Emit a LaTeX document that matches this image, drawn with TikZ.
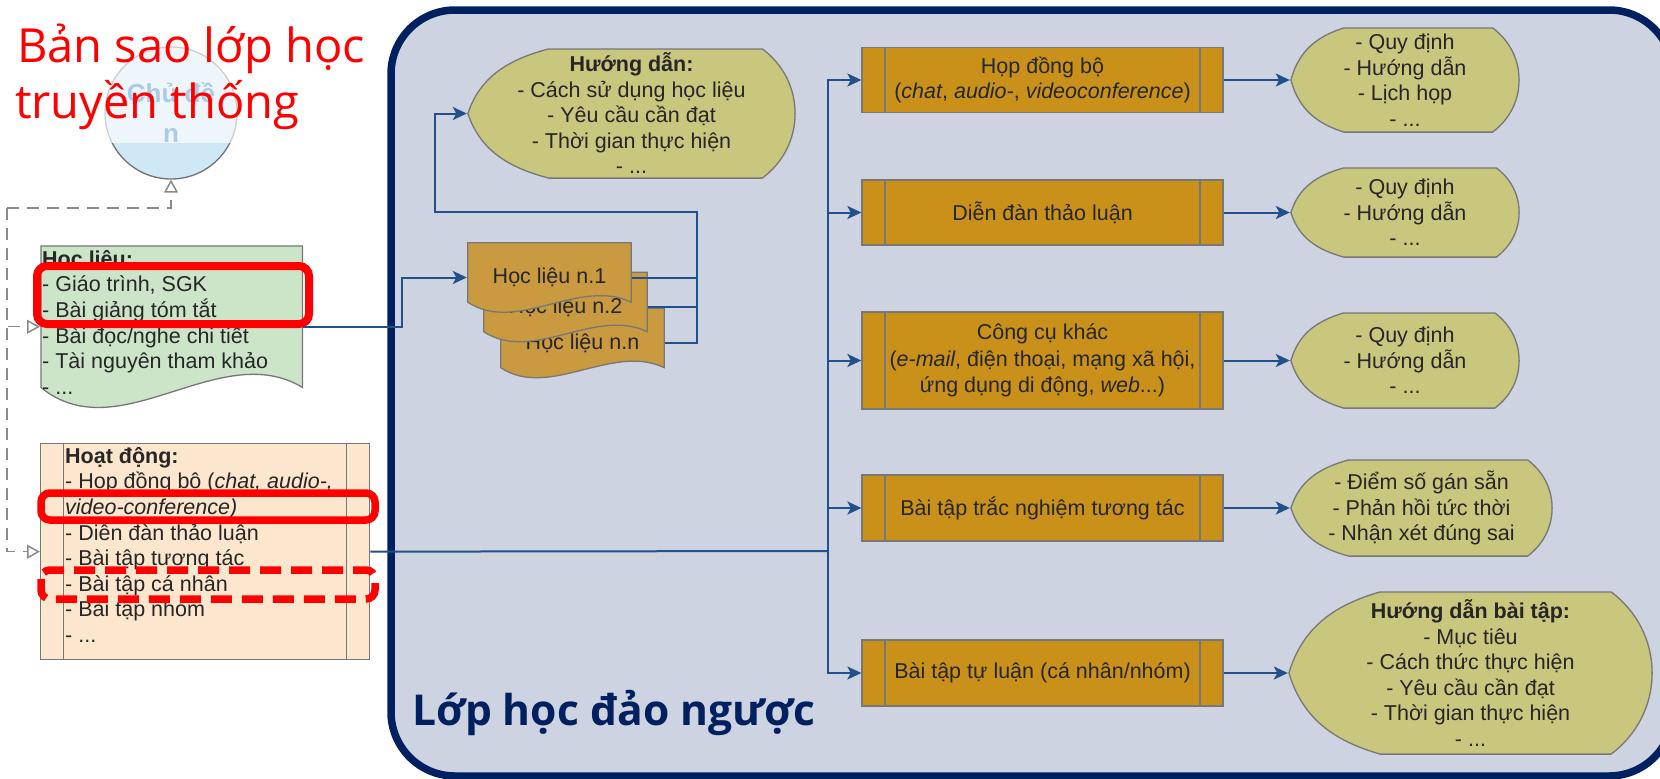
\documentclass[tikz,border=0pt]{standalone}
\usepackage{fontspec}
\setmainfont{Liberation Sans}
\newfontfamily\titlefont{Open Sans}
\usetikzlibrary{arrows.meta,calc}
\definecolor{contfill}{HTML}{CDD3E0}
\definecolor{navy}{HTML}{002060}
\definecolor{boxor}{HTML}{C99119}
\definecolor{docor}{HTML}{C99A40}
\definecolor{dispfill}{HTML}{C9C67E}
\definecolor{greenf}{HTML}{CCE5C9}
\definecolor{peach}{HTML}{FCE6CD}
\definecolor{bgray}{HTML}{777777}
\definecolor{txtc}{HTML}{262626}
\definecolor{conncol}{HTML}{21508C}
\definecolor{dgray}{HTML}{8A8A8A}
\definecolor{topicf}{HTML}{CFE8F5}
\definecolor{topicb}{HTML}{707070}
\definecolor{topict}{HTML}{0A6CC2}
\tikzset{
  lbl/.style={text=txtc, font=\fontsize{21.5}{25.5}\selectfont, align=center, inner sep=0pt},
  lefttxt/.style={text=txtc, font=\fontsize{21.5}{25.6}\selectfont, align=left, inner sep=0pt, anchor=north west},
  subproc/.style={rectangle, draw=bgray, line width=1.3pt, fill=#1, inner sep=0pt,
    path picture={\draw[bgray, line width=1.3pt]
      ([xshift=23pt]path picture bounding box.north west) -- ([xshift=23pt]path picture bounding box.south west)
      ([xshift=-23pt]path picture bounding box.north east) -- ([xshift=-23pt]path picture bounding box.south east);}},
  docpic/.style 2 args={rectangle, inner sep=0pt,
    path picture={\path[fill=#1, draw=bgray, line width=1.3pt]
      let \p1=(path picture bounding box.north west), \p2=(path picture bounding box.south east),
          \n1={\x1+0.7pt}, \n2={\x2-0.7pt}, \n3={\y1-0.7pt}, \n4={\y2+0.8pt+#2pt}, \n5={\x2-\x1}
      in (\n1,\n3) -- (\n2,\n3) -- (\n2,\n4)
         .. controls ({\x1+0.68*\n5},{\n4+2.5*#2pt}) and ({\x1+0.3*\n5},{\n4-3.2*#2pt}) .. (\n1,\n4) -- cycle;}},
  dispshape/.style={rectangle, inner sep=0pt,
    path picture={\path[fill=dispfill, draw=bgray, line width=1.3pt]
      let \p1=(path picture bounding box.north west), \p2=(path picture bounding box.south east),
          \n1={\x1+0.9pt}, \n2={\x2-0.9pt}, \n3={\y1-0.9pt}, \n4={\y2+0.9pt}, \n5={0.5*(\y1+\y2)},
          \n6={\y1-\y2}, \n7={#1*(\x2-\x1)}, \n8={0.25*(\y1-\y2)}
      in ({\n1+\n7},\n3) -- ({\n2-\n8},\n3)
        .. controls ({\n2-\n8+0.158*\n6},{\n3-0.118*\n6}) and (\n2,{\n5+0.197*\n6}) .. (\n2,\n5)
        .. controls (\n2,{\n5-0.197*\n6}) and ({\n2-\n8+0.158*\n6},{\n4+0.118*\n6}) .. ({\n2-\n8},\n4)
        -- ({\n1+\n7},\n4)
        .. controls ({\n1+0.5*\n7},{\n4+0.08*\n6}) and ({\n1+0.15*\n7},{\n5-0.28*\n6}) .. (\n1,\n5)
        .. controls ({\n1+0.15*\n7},{\n5+0.28*\n6}) and ({\n1+0.5*\n7},{\n3-0.08*\n6}) .. ({\n1+\n7},\n3) -- cycle;}},
  conn/.style={draw=conncol, line width=2pt},
  arr/.style={-{Stealth[length=14pt,width=13pt,inset=3.5pt]}},
  dconn/.style={draw=dgray, line width=1.5pt, dash pattern=on 12pt off 8pt},
  oarr/.style={-{Triangle[length=13pt,width=14pt,fill=white]}},
  redbox/.style={draw=red, line width=7.5pt, rounded corners=9pt}
}
\begin{document}
\begin{tikzpicture}[x=1pt,y=1pt]
\useasboundingbox (0,0) rectangle (1660,-779);
% container
\draw[navy, line width=7.5pt, fill=contfill, rounded corners=64pt] (391,-10) rectangle (1673,-776);

% topic circle (faded by the title box)
\node[circle, draw=topicb, line width=1.3pt, fill=topicf, minimum size=132pt, inner sep=0pt,
      text=topict, font=\bfseries\fontsize{26}{40}\selectfont, align=center] (topic) at (171,-113) {Chủ đề\\n};
\fill[white, fill opacity=0.65] (0,0) rectangle (372,-143);
\node[anchor=base west, inner sep=0pt, text=red, font=\titlefont\fontsize{47}{56}\selectfont] (title1) at (17,-62) {Bản sao lớp học};
\node[anchor=base west, inner sep=0pt, text=red, font=\titlefont\fontsize{47}{56}\selectfont] (title2) at (15,-118) {truyền thống};

% left shapes
\node[docpic={greenf}{20}, minimum width=263pt, minimum height=163pt, anchor=north west] (hoclieu) at (40,-245) {};
\node[lefttxt] (hoclieutxt) at (42,-250) {\textbf{Học liệu:}\\- Giáo trình, SGK\\- Bài giảng tóm tắt\\- Bài đọc/nghe chi tiết\\- Tài nguyên tham khảo\\- ...};
\node[subproc=peach, minimum width=329pt, minimum height=216pt, anchor=north west] (hoatdong) at (40,-443) {};
\node[lefttxt] (hoatdongtxt) at (65,-447) {\textbf{Hoạt động:}\\- Họp đồng bộ (\textit{chat, audio-,}\\\textit{video-conference)}\\- Diễn đàn thảo luận\\- Bài tập tương tác\\- Bài tập cá nhân\\- Bài tập nhóm\\- ...};

% dashed connectors
\coordinate (dtop) at (7,-208);
\draw[dconn, oarr] (dtop) -| (topic.south);
\draw[dconn, oarr] (dtop) |- (hoclieu.west);
\draw[dconn, oarr] (dtop) |- (hoatdong.west);

% red highlight frames
\draw[redbox, line width=8pt, rounded corners=10pt] (37,-266) rectangle (309,-324);
\draw[redbox] (41,-493) rectangle (375,-520);
\draw[redbox, dash pattern=on 21pt off 10pt] (41,-570) rectangle (375,-599);

% documents
\node[docpic={docor}{10}, minimum width=165pt, minimum height=71pt, lbl] (hln) at (582.5,-343) {Học liệu n.n};
\node[docpic={docor}{10}, minimum width=165pt, minimum height=71pt, lbl] (hl2) at (565.5,-307) {Học liệu n.2};
\node[docpic={docor}{10}, minimum width=165pt, minimum height=71pt, lbl] (hl1) at (549.5,-277.5) {Học liệu n.1};

% guidance display
\node[dispshape=0.246, minimum width=329pt, minimum height=131pt, lbl] (hd) at (631.5,-113.5)
  {\textbf{Hướng dẫn:}\\- Cách sử dụng học liệu\\- Yêu cầu cần đạt\\- Thời gian thực hiện\\- ...};

% tool boxes
\node[subproc=boxor, minimum width=361pt, minimum height=65pt, lbl] (b1) at (1042.5,-80)
  {Họp đồng bộ\\(\textit{chat}, \textit{audio-}, \textit{videoconference})};
\node[subproc=boxor, minimum width=361pt, minimum height=65pt, lbl] (b2) at (1042.5,-212.5) {Diễn đàn thảo luận};
\node[subproc=boxor, minimum width=361pt, minimum height=97pt, lbl, font=\fontsize{21.5}{26.5}\selectfont] (b3) at (1042.5,-360.5)
  {Công cụ khác\\(\textit{e-mail}, điện thoại, mạng xã hội,\\ứng dụng di động, \textit{web}...)};
\node[subproc=boxor, minimum width=361pt, minimum height=66pt, lbl] (b4) at (1042.5,-508) {Bài tập trắc nghiệm tương tác};
\node[subproc=boxor, minimum width=361pt, minimum height=66pt, lbl] (b5) at (1042.5,-673) {Bài tập tự luận (cá nhân/nhóm)};

% result displays
\node[dispshape=0.23, minimum width=230pt, minimum height=106pt, lbl] (d1) at (1405,-80)
  {- Quy định\\- Hướng dẫn\\- Lịch họp\\- ...};
\node[dispshape=0.23, minimum width=230pt, minimum height=91pt, lbl] (d2) at (1405,-212.5)
  {- Quy định\\- Hướng dẫn\\- ...};
\node[dispshape=0.23, minimum width=230pt, minimum height=97pt, lbl] (d3) at (1405,-360.5)
  {- Quy định\\- Hướng dẫn\\- ...};
\node[dispshape=0.22, minimum width=263pt, minimum height=98pt, lbl] (d4) at (1421.5,-508)
  {- Điểm số gán sẵn\\- Phản hồi tức thời\\- Nhận xét đúng sai};
\node[dispshape=0.25, minimum width=365pt, minimum height=164pt, lbl] (d5) at (1470.5,-673)
  {\textbf{Hướng dẫn bài tập:}\\- Mục tiêu\\- Cách thức thực hiện\\- Yêu cầu cần đạt\\- Thời gian thực hiện\\- ...};

% connectors
\coordinate (kA) at (402,-327);
\draw[conn, arr] (hoclieu.east) -- (hoclieu.east -| kA) |- (hl1.west);
\coordinate (jn) at (697,-212);
\coordinate (jl) at (435,-212);
\draw[conn] (hl1.east) -- (hl1.east -| jn);
\draw[conn] (hl2.east) -- (hl2.east -| jn);
\draw[conn, arr] (hln.east) -- (hln.east -| jn) -- (jn) -- (jl) |- (hd.west);

\coordinate (trunk) at (828,-551);
\draw[conn] (hoatdong.east) -- (trunk);
\foreach \b in {b1,b2,b3,b4,b5} { \draw[conn, arr] (trunk) |- (\b.west); }
\draw[conn, arr] (b1.east) -- (d1.west);
\draw[conn, arr] (b2.east) -- (d2.west);
\draw[conn, arr] (b3.east) -- (d3.west);
\draw[conn, arr] (b4.east) -- (d4.west);
\draw[conn, arr] (b5.east) -- (d5.west);

\node[anchor=base west, inner sep=0pt, text=navy, font=\titlefont\bfseries\fontsize{42.5}{50}\selectfont] (flip) at (412,-725) {Lớp học đảo ngược};
\end{tikzpicture}
\end{document}
